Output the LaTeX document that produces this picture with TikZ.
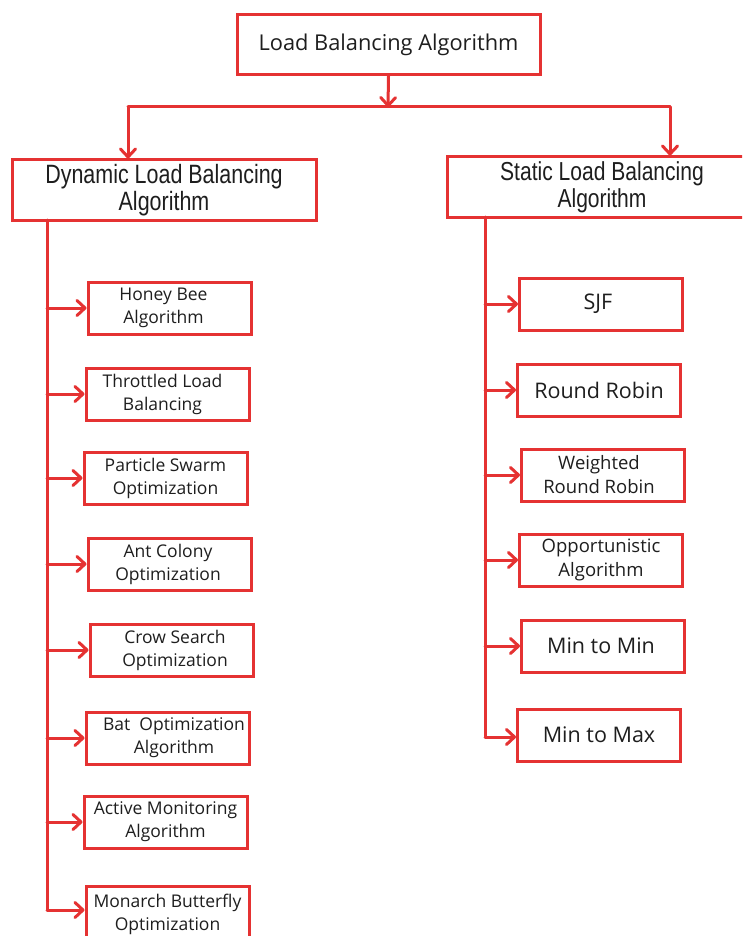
\documentclass[tikz,border=0pt]{standalone}
\usepackage{fontspec}
\setmainfont{Open Sans}
\newfontfamily\narrowfont[FakeStretch=0.81]{Liberation Sans}
\usetikzlibrary{arrows.meta}
\definecolor{lbred}{RGB}{229,50,50}
\definecolor{lbtext}{RGB}{30,30,30}
\newcommand{\lsh}[1]{\hspace*{#1}}
\tikzset{
  ln/.style={draw=lbred, line width=3pt, line cap=round},
  arr/.style={ln, -{Straight Barb[length=8pt,width=15pt,line cap=round,line join=round]}},
  bigbox/.style={draw=lbred, line width=3pt, inner sep=0pt, minimum width=303pt, minimum height=60pt,
     align=center, text=lbtext, font=\narrowfont\fontsize{26.5}{27}\selectfont},
  leaf/.style={draw=lbred, line width=3pt, inner sep=0pt, minimum width=163pt, minimum height=52pt,
     align=center, text=lbtext, font=\fontsize{17.5}{23}\selectfont},
  leafbig/.style={leaf, font=\fontsize{21.5}{23}\selectfont}
}
\begin{document}
\begin{tikzpicture}[x=1pt,y=-1pt]
\useasboundingbox (0,0) rectangle (742,936);
\clip (0,0) rectangle (742,936);
\fill[white] (0,0) rectangle (742,936);
% top level
\node[bigbox, font=\fontsize{21.8}{26}\selectfont] (root) at (388.5,44.5) {Load Balancing Algorithm};
\node[bigbox, minimum width=304pt] (dyn) at (164,190) {Dynamic Load Balancing\\Algorithm};
\node[bigbox, minimum width=310pt, font=\narrowfont\fontsize{26}{27}\selectfont] (sta) at (602,187) {Static Load Balancing\\Algorithm};
\coordinate (jc) at (388,107);
\coordinate (jl) at (128,107);
\coordinate (jr) at (670,107);
\draw[arr] (root.south) -- (jc);
\draw[ln] (jl) -- (jr);
\draw[arr] (jl) -- (jl |- dyn.north);
\draw[arr] (jr) -- (jr |- sta.north);
% left leaves
\node[leaf] (hb) at (169.5,308) {\lsh{-12pt}Honey Bee\\\lsh{-12pt}Algorithm};
\node[leaf] (tl) at (167.5,394) {\lsh{-10pt}Throttled Load\\\lsh{-10pt}Balancing};
\node[leaf] (ps) at (165.5,478) {Particle Swarm\\Optimization};
\node[leaf] (ac) at (169.5,564) {\lsh{-3pt}Ant Colony\\\lsh{-3pt}Optimization};
\node[leaf] (cs) at (171.5,650) {\lsh{7pt}Crow Search\\\lsh{7pt}Optimization};
\node[leaf] (bo) at (167.5,738) {\lsh{13pt}Bat\ \ Optimization\\\lsh{13pt}Algorithm};
\node[leaf] (am) at (165.5,822) {Active Monitoring\\Algorithm};
\node[leaf, minimum height=56pt] (mb) at (167.5,914) {Monarch Butterfly\\Optimization};
\coordinate (lt) at (47,220);
\coordinate (lb) at (47,910);
\draw[ln] (lt) -- (lb);
\foreach \n in {hb,tl,ps,ac,cs,bo,am}{
  \draw[arr] (lt |- \n.west) -- (\n.west);
}
\draw[arr] (lb) -- (lb -| mb.west);
% right leaves
\node[leafbig] (sjf) at (601,304) {\lsh{-6pt}SJF};
\node[leafbig] (rr) at (599,390) {Round Robin};
\node[leaf, font=\fontsize{18.5}{24}\selectfont] (wrr) at (603,475) {\lsh{-8pt}Weighted\\\lsh{-8pt}Round Robin};
\node[leaf, font=\fontsize{18.5}{24}\selectfont] (oa) at (601,560) {Opportunistic\\Algorithm};
\node[leafbig] (mm) at (603,646) {\lsh{-4pt}Min to Min};
\node[leafbig] (mx) at (599,735) {Min to Max};
\coordinate (rt) at (485,217);
\coordinate (rb) at (485,737);
\draw[ln] (rt) -- (rb);
\foreach \n in {sjf,rr,wrr,oa,mm}{
  \draw[arr] (rt |- \n.west) -- (\n.west);
}
\draw[arr] (rb) -- (rb -| mx.west);
\end{tikzpicture}
\end{document}
